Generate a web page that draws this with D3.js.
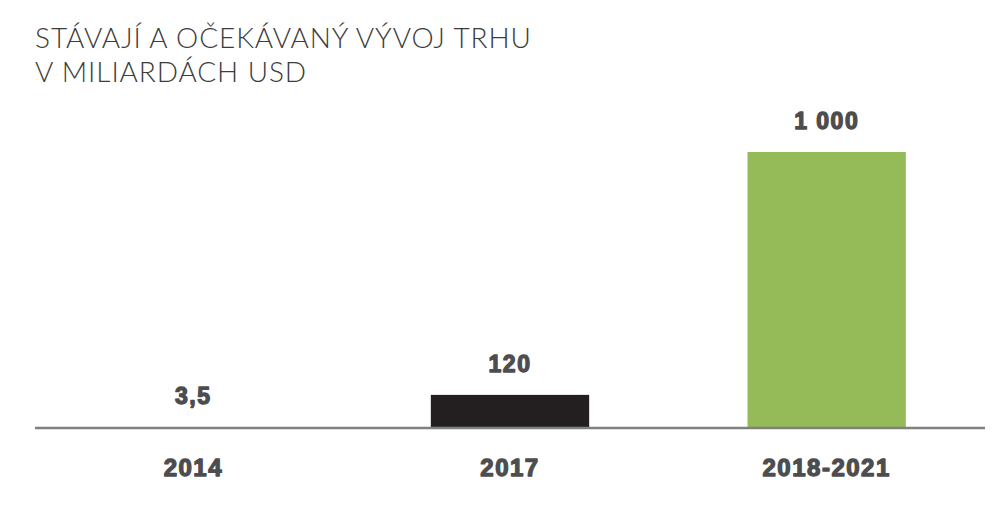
<!DOCTYPE html>
<html><head><meta charset="utf-8">
<script src="https://cdn.jsdelivr.net/npm/d3@7"></script>
<style>body{margin:0;background:#fff}</style>
</head><body>
<svg id="chart" width="1000" height="512"></svg>
<script>
const categories = ["2014", "2017", "2018-2021"];
const values = [3.5, 120, 1000];
const valueLabels = ["3,5", "120", "1 000"];
const barColors = ["#231f20", "#231f20", "#95bb58"];
const titleLines = ["STÁVAJÍ A OČEKÁVANÝ VÝVOJ TRHU", "V MILIARDÁCH USD"];

const svg = d3.select("#chart");
const x = d3.scaleBand().domain(categories).range([35, 985]).paddingInner(0.5).paddingOuter(0.25);
const y = d3.scaleLinear().domain([0, 1000]).range([428, 152]);

svg.selectAll("text.title").data(titleLines).join("text")
  .attr("class","title")
  .attr("x", 35).attr("y", (d,i) => 48 + i*34)
  .attr("font-family", "Lato, 'Open Sans', sans-serif")
  .attr("font-weight", 300)
  .attr("font-size", 28)
  .attr("letter-spacing", 0.9)
  .attr("fill", "#3c3c3c")
  .text(d => d);

svg.selectAll("rect.bar").data(values).join("rect")
  .attr("class","bar")
  .attr("x", (d,i) => x(categories[i]))
  .attr("width", x.bandwidth())
  .attr("y", d => y(d))
  .attr("height", d => y(0) - y(d))
  .attr("fill", (d,i) => barColors[i]);

svg.append("line")
  .attr("x1", 35).attr("x2", 985)
  .attr("y1", y(0)).attr("y2", y(0))
  .attr("stroke", "#808080").attr("stroke-width", 2.5);

const bold = sel => sel
  .attr("font-family", "'Liberation Sans', Arial, sans-serif")
  .attr("font-weight", 700)
  .attr("fill", "#4d4d4f")
  .attr("stroke", "#4d4d4f").attr("stroke-width", 1.3)
  .attr("stroke-linejoin", "round")
  .attr("text-anchor", "middle");

svg.selectAll("text.val").data(values).join("text")
  .attr("class","val")
  .attr("x", (d,i) => x(categories[i]) + x.bandwidth()/2)
  .attr("y", d => y(d) - 23)
  .attr("font-size", 23)
  .attr("letter-spacing", 1.5)
  .call(bold)
  .text((d,i) => valueLabels[i]);

svg.selectAll("text.cat").data(categories).join("text")
  .attr("class","cat")
  .attr("x", d => x(d) + x.bandwidth()/2)
  .attr("y", 476)
  .attr("font-size", 24)
  .attr("letter-spacing", 1.5)
  .call(bold)
  .text(d => d);
</script>
</body></html>
